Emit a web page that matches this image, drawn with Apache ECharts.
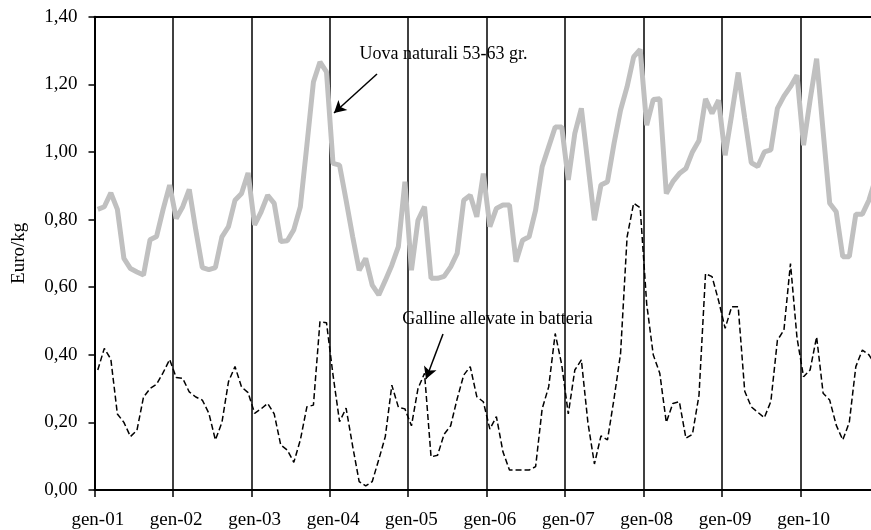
<!DOCTYPE html>
<html>
<head>
<meta charset="utf-8">
<script src="https://cdn.jsdelivr.net/npm/echarts@6/dist/echarts.min.js"></script>
<style>
html,body{margin:0;padding:0;background:#fff;}
#chart{width:871px;height:530px;}
</style>
</head>
<body>
<div id="chart"></div>
<script>
const months = ['gen','feb','mar','apr','mag','giu','lug','ago','set','ott','nov','dic'];
const years = ['01','02','03','04','05','06','07','08','09','10'];
const yTickLabels = ['0,00','0,20','0,40','0,60','0,80','1,00','1,20','1,40'];

// Uova naturali 53-63 gr. (Euro/kg), monthly gen-01 .. dic-10
const uova = [
  0.830, 0.838, 0.879, 0.830, 0.685, 0.655, 0.645, 0.636, 0.740, 0.750, 0.830, 0.902,
  0.803, 0.838, 0.889, 0.769, 0.658, 0.652, 0.658, 0.749, 0.779, 0.857, 0.877, 0.938,
  0.784, 0.823, 0.872, 0.848, 0.735, 0.737, 0.770, 0.838, 1.020, 1.207, 1.266, 1.237,
  0.966, 0.961, 0.857, 0.750, 0.650, 0.685, 0.606, 0.577, 0.620, 0.665, 0.720, 0.912,
  0.650, 0.798, 0.838, 0.626, 0.626, 0.632, 0.660, 0.700, 0.857, 0.872, 0.808, 0.936,
  0.779, 0.833, 0.843, 0.843, 0.675, 0.739, 0.749, 0.828, 0.956, 1.015, 1.074, 1.074,
  0.917, 1.055, 1.129, 0.965, 0.798, 0.902, 0.912, 1.025, 1.124, 1.193, 1.281, 1.303,
  1.079, 1.155, 1.157, 0.877, 0.912, 0.936, 0.951, 1.000, 1.034, 1.157, 1.114, 1.153,
  0.990, 1.110, 1.235, 1.100, 0.968, 0.957, 1.000, 1.006, 1.129, 1.165, 1.193, 1.227,
  1.020, 1.153, 1.276, 1.060, 0.848, 0.823, 0.690, 0.690, 0.816, 0.816, 0.857, 0.920
];

// Galline allevate in batteria (Euro/kg)
const galline = [
  0.355, 0.419, 0.387, 0.225, 0.200, 0.158, 0.177, 0.275, 0.300, 0.313, 0.347, 0.386,
  0.333, 0.330, 0.290, 0.275, 0.266, 0.227, 0.148, 0.200, 0.320, 0.365, 0.305, 0.288,
  0.227, 0.240, 0.256, 0.225, 0.133, 0.118, 0.082, 0.148, 0.246, 0.251, 0.498, 0.495,
  0.340, 0.202, 0.242, 0.130, 0.025, 0.012, 0.025, 0.090, 0.158, 0.310, 0.245, 0.240,
  0.190, 0.300, 0.345, 0.098, 0.103, 0.165, 0.190, 0.270, 0.340, 0.365, 0.276, 0.261,
  0.180, 0.217, 0.113, 0.059, 0.059, 0.059, 0.059, 0.069, 0.240, 0.305, 0.463, 0.370,
  0.225, 0.355, 0.385, 0.200, 0.077, 0.160, 0.148, 0.270, 0.404, 0.749, 0.848, 0.835,
  0.550, 0.400, 0.345, 0.200, 0.256, 0.261, 0.153, 0.165, 0.280, 0.640, 0.631, 0.560,
  0.478, 0.542, 0.542, 0.292, 0.246, 0.230, 0.214, 0.262, 0.443, 0.473, 0.670, 0.450,
  0.335, 0.355, 0.453, 0.286, 0.266, 0.192, 0.148, 0.200, 0.365, 0.414, 0.400, 0.370
];

const categories = [];
years.forEach(y => months.forEach(m => categories.push(m + '-' + y)));

const FONT = "'Liberation Serif','Times New Roman',serif";
const chart = echarts.init(document.getElementById('chart'), null, {renderer: 'canvas'});

chart.setOption({
  animation: false,
  backgroundColor: '#ffffff',
  grid: {left: 94.5, top: 16.7, width: 784.2, height: 473.3, containLabel: false, outerBoundsMode: 'none'},
  xAxis: [{
    type: 'category',
    data: categories,
    boundaryGap: true,
    axisLine: {show: true, lineStyle: {color: '#000', width: 2}},
    axisTick: {show: true, interval: 11, length: 7, lineStyle: {color: '#000', width: 1.5}},
    axisLabel: {show: true, interval: 11, margin: 21, color: '#000', fontFamily: FONT, fontSize: 19,
      formatter: v => v},
    splitLine: {show: true, interval: 11, lineStyle: {color: '#000', width: 1.5}}
  }, {
    type: 'category',
    data: categories,
    position: 'top',
    boundaryGap: true,
    axisLine: {show: true, lineStyle: {color: '#000', width: 2}},
    axisTick: {show: false},
    axisLabel: {show: false},
    splitLine: {show: false}
  }],
  yAxis: {
    type: 'value',
    min: 0, max: 1.4, interval: 0.2,
    name: 'Euro/kg',
    nameLocation: 'middle',
    nameRotate: 90,
    nameGap: 66,
    nameTextStyle: {color: '#000', fontFamily: FONT, fontSize: 19},
    axisLine: {show: true, lineStyle: {color: '#000', width: 2}},
    axisTick: {show: true, inside: false, length: 6, lineStyle: {color: '#000', width: 1.5}},
    axisLabel: {color: '#000', fontFamily: FONT, fontSize: 19, margin: 17,
      formatter: v => yTickLabels[Math.round(v / 0.2)]},
    splitLine: {show: false}
  },
  series: [{
    name: 'Uova naturali 53-63 gr.',
    type: 'line',
    data: uova,
    showSymbol: false,
    symbol: 'none',
    lineStyle: {color: '#c0c0c0', width: 5},
    z: 2
  }, {
    name: 'Galline allevate in batteria',
    type: 'line',
    data: galline,
    showSymbol: false,
    symbol: 'none',
    lineStyle: {color: '#000', width: 1.5, type: [6, 3]},
    z: 3,
    markLine: {
      silent: true,
      symbol: ['none', 'arrow'],
      symbolSize: [10, 12],
      label: {show: false},
      lineStyle: {color: '#000', width: 1.5, type: 'solid'},
      data: [
        [{x: 377, y: 74}, {x: 334, y: 113}],
        [{x: 443, y: 334}, {x: 426, y: 379}]
      ]
    }
  }],
  graphic: [{
    type: 'text',
    x: 443.5, y: 54.5,
    style: {text: 'Uova naturali 53-63 gr.', fill: '#000', font: "18px 'Liberation Serif'", textAlign: 'center', textVerticalAlign: 'middle'},
    z: 10
  }, {
    type: 'text',
    x: 497.5, y: 319.5,
    style: {text: 'Galline allevate in batteria', fill: '#000', font: "18px 'Liberation Serif'", textAlign: 'center', textVerticalAlign: 'middle'},
    z: 10
  }]
});
</script>
</body>
</html>
